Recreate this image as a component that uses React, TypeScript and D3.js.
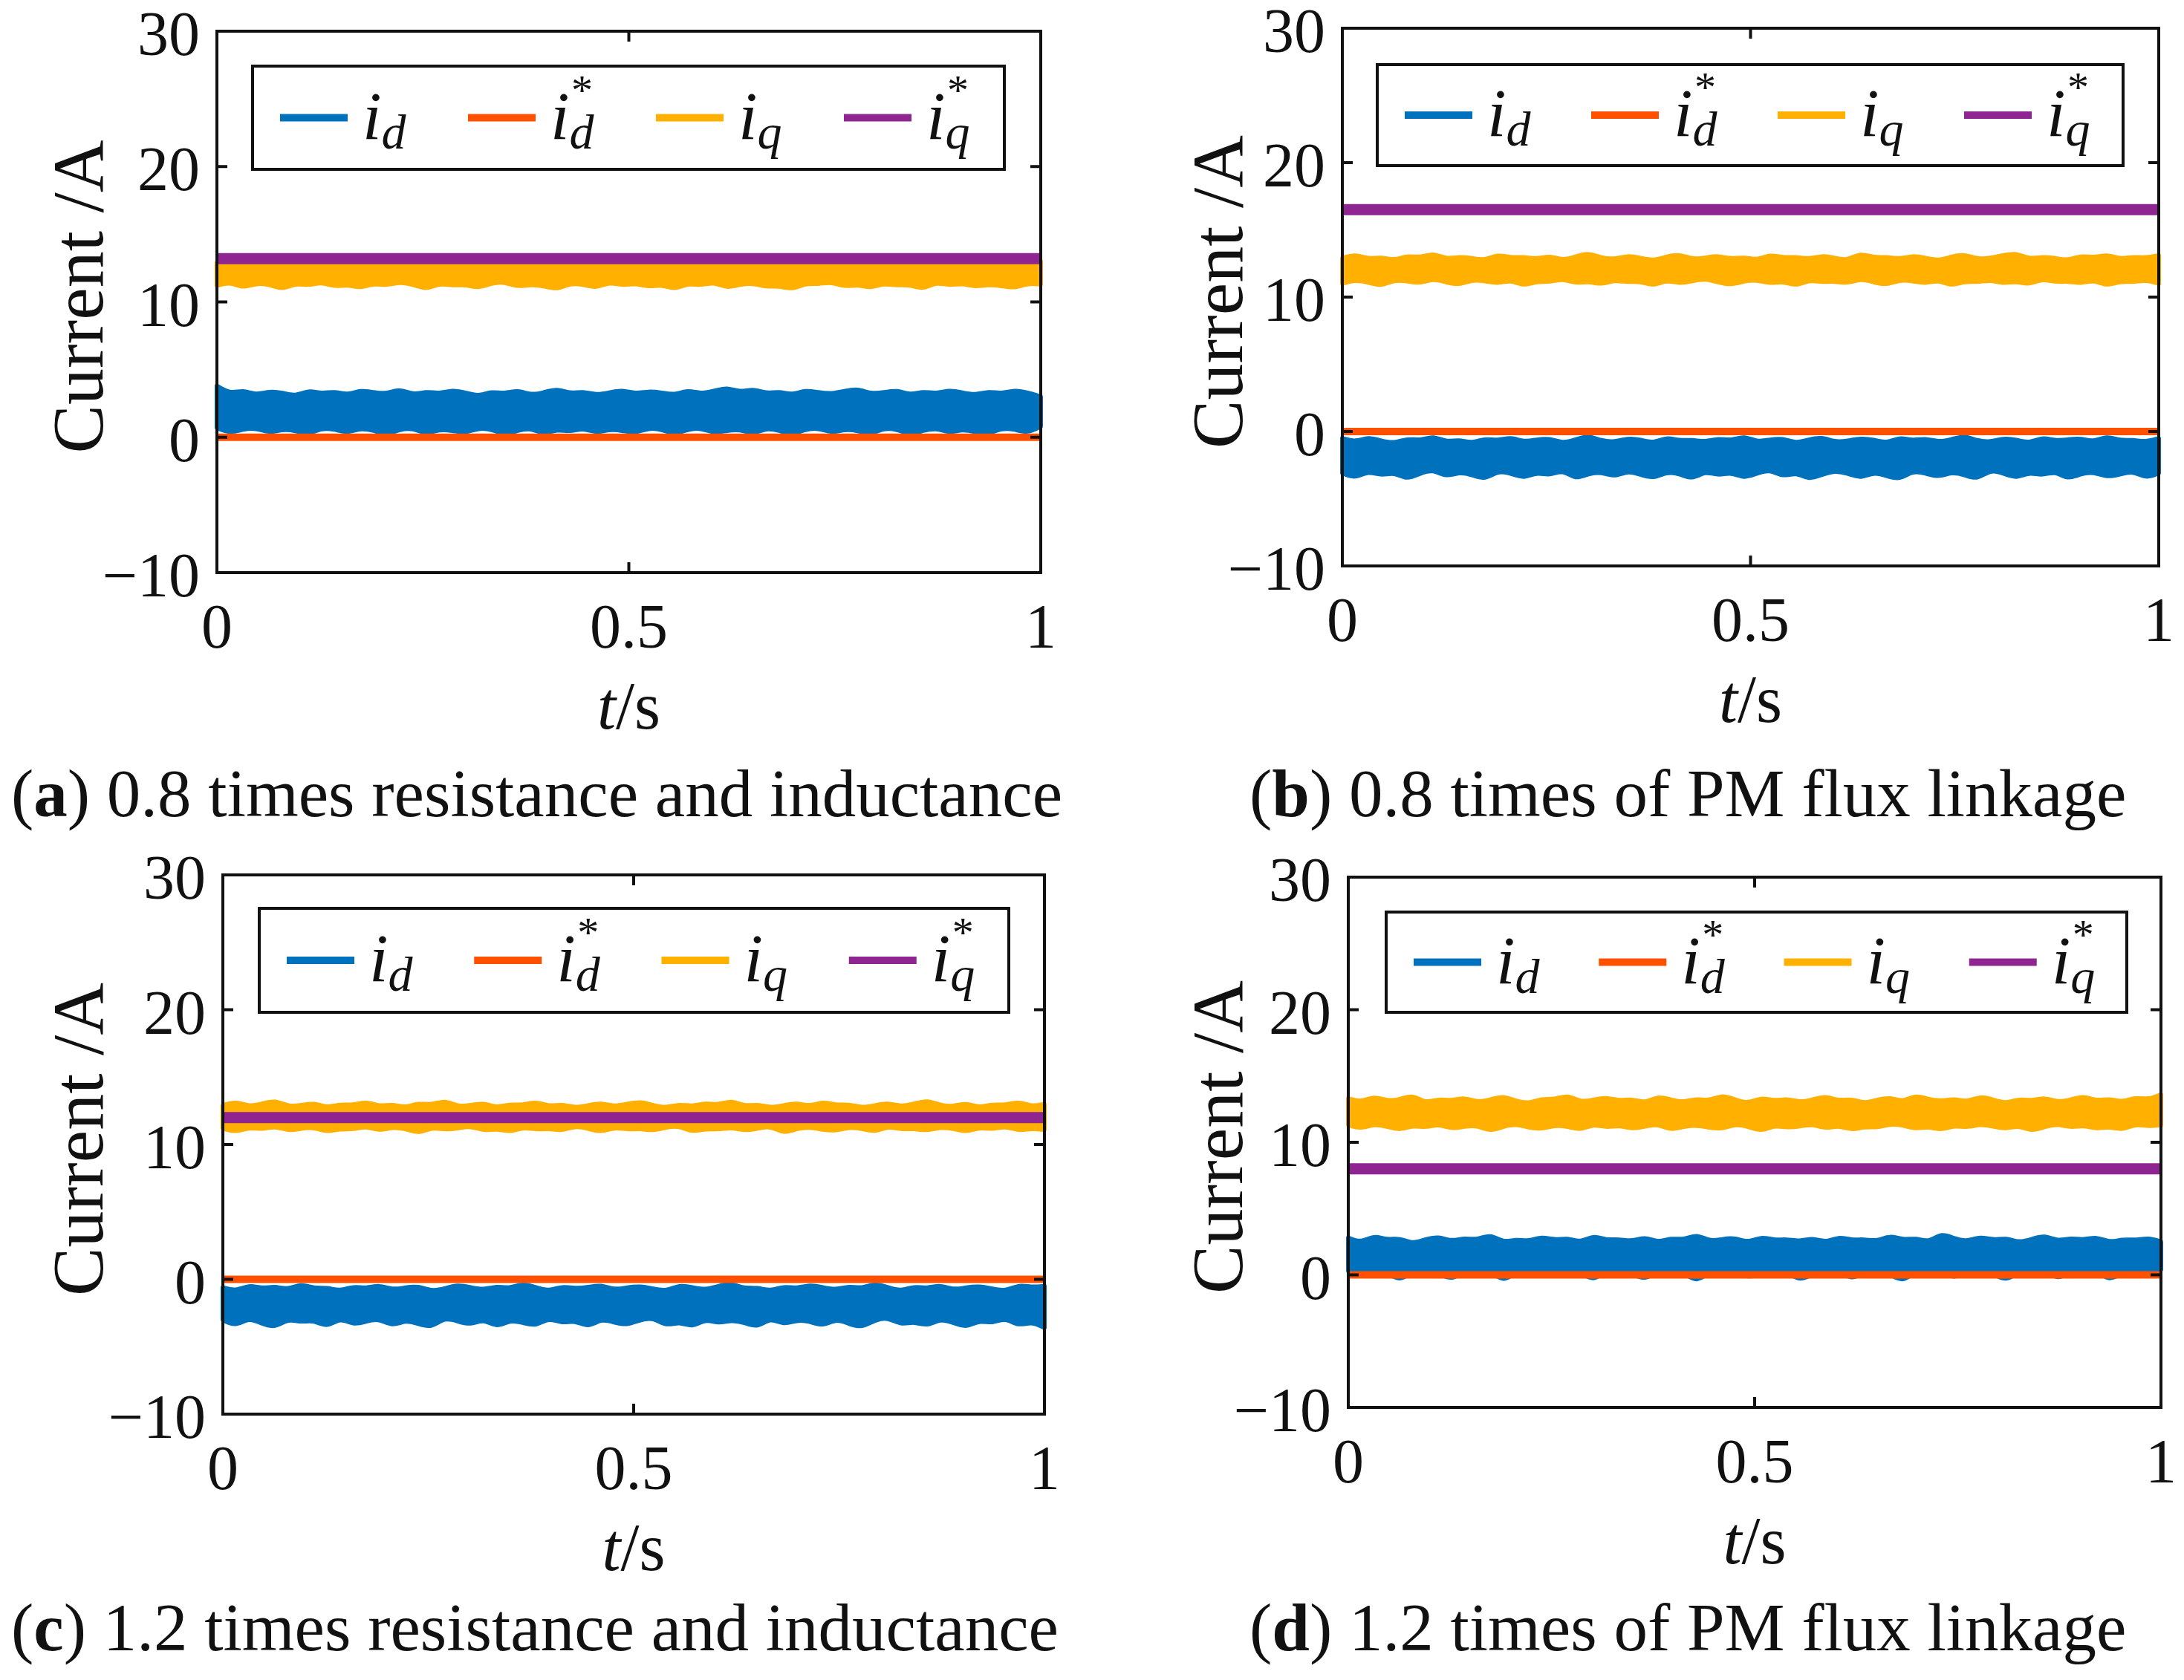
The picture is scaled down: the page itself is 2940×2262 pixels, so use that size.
import { useEffect, useRef } from 'react';
import * as d3 from 'd3';

// ── axis ticks ──
const T_TICKS = [0, 0.5, 1];
const T_TICK_LABELS = ['0', '0.5', '1'];
const I_TICKS = [-10, 0, 10, 20, 30];
const I_TICK_LABELS = ['\u221210', '0', '10', '20', '30'];

// ── legend ──
const LEGEND_SUBS = ['d', 'd', 'q', 'q'];
const LEGEND_STAR = [false, true, false, true];
const COLORS = ['#0072BD', '#FF5000', '#FFB000', '#8E2590'];

// ── captions ──
const CAPTION_TAGS = ['a', 'b', 'c', 'd'];
const CAPTION_TEXTS = [
  ' 0.8 times resistance and inductance',
  ' 0.8 times of PM flux linkage',
  ' 1.2 times resistance and inductance',
  ' 1.2 times of PM flux linkage',
];

// ── reference currents (flat) per panel a..d ──
const ID_REF = [0, 0, 0, 0];
const IQ_REF = [13.2, 16.5, 12, 8];

// ── measured currents: upper / lower edges of the ripple band, panel (a) ──
const A_ID_HI = [3.8,3.2,3.5,3.1,3.4,3.3,3.0,3.5,3.2,3.4,3.1,3.5,3.3,3.2,3.6,3.1,3.4,3.2,3.5,3.3,3.0,3.4,3.2,3.5,3.1,3.3,3.6,3.2,3.4,3.1,3.3,3.5,3.2,3.4,3.3,3.1,3.5,3.2,3.4,3.7,3.3,3.6,3.2,3.4,3.1,3.5,3.3,3.2,3.4,3.6,3.2,3.3,3.5,3.1,3.4,3.2,3.5,3.3,3.1,3.4,3.2,3.5,3.3,3.0];
const A_ID_LO = [0.7,0.3,0.6,0.7,0.3,0.6,0.5,0.2,0.7,0.6,0.3,0.7,0.5,0.2,0.6,0.7,0.2,0.6,0.5,0.3,0.7,0.6,0.2,0.5,0.7,0.2,0.6,0.4,0.7,0.3,0.6,0.5,0.3,0.7,0.6,0.2,0.6,0.7,0.3,0.5,0.6,0.2,0.7,0.5,0.2,0.6,0.7,0.3,0.6,0.5,0.2,0.7,0.6,0.2,0.5,0.7,0.3,0.6,0.4,0.2,0.7,0.6,0.3,0.8];
const A_IQ_HI = [12.9,12.8,13.0,12.8,12.9,12.7,13.0,12.9,12.8,13.0,12.9,12.7,12.9,13.0,12.8,12.9,12.7,13.0,12.9,12.8,13.0,12.8,12.9,12.7,13.0,12.9,12.8,12.9,13.0,12.8,12.7,12.9,13.0,12.8,12.9,12.7,13.0,12.9,12.8,13.0,12.9,12.7,12.8,13.0,12.9,12.8,12.9,13.0,12.7,12.9,12.8,13.0,12.9,12.8,12.7,13.0,12.9,12.8,13.0,12.9,12.7,12.9,12.8,13.0];
const A_IQ_LO = [11.2,11.5,11.0,11.4,11.3,10.9,11.4,11.2,11.5,11.1,11.3,11.0,11.4,11.2,11.5,11.3,10.9,11.4,11.2,11.3,11.0,11.4,11.5,11.1,11.3,11.2,10.9,11.4,11.3,11.0,11.5,11.2,11.4,11.1,11.3,10.9,11.4,11.2,11.5,11.0,11.3,11.4,11.1,11.2,10.9,11.4,11.3,11.5,11.1,11.3,11.0,11.4,11.2,11.3,10.9,11.5,11.2,11.4,11.1,11.3,11.2,11.0,11.4,11.3];

// panel (b)
const B_ID_HI = [-0.5,-0.8,-0.4,-0.7,-0.9,-0.5,-0.7,-0.3,-0.8,-0.6,-0.9,-0.5,-0.7,-0.4,-0.8,-0.6,-0.5,-0.9,-0.6,-0.3,-0.7,-0.8,-0.5,-0.6,-0.9,-0.4,-0.7,-0.6,-0.8,-0.5,-0.7,-0.3,-0.8,-0.6,-0.5,-0.9,-0.6,-0.4,-0.8,-0.7,-0.5,-0.6,-0.9,-0.4,-0.7,-0.5,-0.8,-0.6,-0.3,-0.7,-0.8,-0.5,-0.6,-0.9,-0.4,-0.7,-0.6,-0.5,-0.8,-0.3,-0.7,-0.6,-0.8,-0.5];
const B_ID_LO = [-3.1,-3.5,-2.9,-3.3,-3.0,-3.6,-3.1,-2.8,-3.4,-3.0,-3.2,-3.6,-2.9,-3.1,-3.5,-3.0,-3.3,-2.8,-3.6,-3.1,-3.0,-3.4,-2.9,-3.2,-3.5,-3.0,-3.1,-3.6,-2.9,-3.3,-3.0,-3.5,-3.1,-2.8,-3.4,-3.0,-3.6,-3.2,-2.9,-3.1,-3.5,-3.0,-3.3,-3.6,-2.9,-3.1,-3.4,-3.0,-3.2,-3.6,-2.8,-3.1,-3.5,-3.0,-3.3,-2.9,-3.6,-3.1,-3.0,-3.4,-3.2,-2.9,-3.5,-3.1];
const B_IQ_HI = [12.9,13.2,12.8,13.0,12.7,13.1,12.9,13.3,12.8,13.0,12.9,12.7,13.2,12.9,13.0,12.8,13.1,12.7,13.0,13.3,12.9,12.8,13.1,12.9,12.7,13.0,13.2,12.8,12.9,13.1,12.8,13.0,12.7,13.2,12.9,13.0,12.8,13.1,12.9,12.7,13.3,12.9,13.0,12.8,13.1,12.9,12.7,13.0,13.2,12.8,12.9,13.1,13.3,12.8,13.0,12.9,12.7,13.1,12.9,13.2,12.8,13.0,12.9,13.1];
const B_IQ_LO = [11.0,11.3,11.1,10.8,11.3,11.2,11.0,11.4,11.1,10.9,11.3,11.2,11.0,11.3,10.8,11.2,11.1,11.4,11.0,11.2,10.9,11.3,11.1,11.2,10.8,11.3,11.0,11.2,11.4,11.1,10.9,11.2,11.3,11.0,11.2,10.8,11.3,11.1,11.2,11.0,11.4,11.1,10.9,11.3,11.2,11.0,11.3,10.8,11.2,11.1,11.3,11.0,11.2,10.9,11.4,11.1,11.2,11.0,11.3,10.8,11.2,11.1,11.3,11.0];

// panel (c)
const C_ID_HI = [-0.6,-0.9,-0.4,-0.7,-0.5,-0.8,-0.3,-0.7,-0.6,-0.9,-0.5,-0.7,-0.4,-0.8,-0.6,-0.5,-0.9,-0.7,-0.4,-0.6,-0.8,-0.5,-0.7,-0.3,-0.6,-0.9,-0.5,-0.7,-0.6,-0.4,-0.8,-0.6,-0.5,-0.7,-0.9,-0.4,-0.6,-0.8,-0.5,-0.3,-0.7,-0.6,-0.9,-0.5,-0.7,-0.4,-0.6,-0.8,-0.5,-0.7,-0.3,-0.6,-0.9,-0.5,-0.7,-0.4,-0.8,-0.6,-0.5,-0.7,-0.9,-0.4,-0.6,-0.5];
const C_ID_LO = [-3.0,-3.5,-2.8,-3.3,-3.6,-2.9,-3.2,-3.0,-3.6,-2.8,-3.4,-3.1,-2.9,-3.5,-3.0,-3.3,-3.6,-2.8,-3.1,-3.4,-2.9,-3.6,-3.0,-3.2,-3.5,-2.8,-3.3,-3.0,-3.6,-2.9,-3.2,-3.4,-3.0,-2.8,-3.5,-3.1,-3.6,-2.9,-3.3,-3.0,-3.2,-3.6,-2.8,-3.4,-3.0,-3.1,-3.5,-2.9,-3.3,-3.6,-3.0,-2.8,-3.4,-3.1,-3.5,-2.9,-3.2,-3.6,-3.0,-3.3,-2.8,-3.5,-3.1,-3.6];
const C_IQ_HI = [12.9,13.2,12.8,13.0,13.3,12.8,12.9,13.1,12.7,13.0,12.9,13.2,12.8,13.0,12.7,13.1,12.9,13.3,12.8,12.9,13.1,12.7,13.0,12.9,13.2,12.8,13.0,12.7,12.9,13.1,12.8,13.0,13.2,12.9,12.7,13.0,12.8,13.1,12.9,13.3,12.8,13.0,12.7,12.9,13.1,12.8,13.2,12.9,13.0,12.7,12.9,13.1,12.8,13.0,13.3,12.9,12.8,13.1,12.7,13.0,12.9,13.2,12.8,13.0];
const C_IQ_LO = [11.2,10.9,11.3,11.1,11.4,11.0,11.2,11.3,10.9,11.2,11.1,11.4,11.0,11.3,11.2,10.8,11.3,11.1,11.2,11.4,11.0,11.2,10.9,11.3,11.1,11.2,11.0,11.4,11.2,10.9,11.3,11.1,11.2,11.0,11.3,11.4,10.9,11.2,11.1,11.3,11.0,11.2,11.4,10.8,11.2,11.3,11.1,11.0,11.3,11.2,10.9,11.4,11.1,11.2,11.0,11.3,11.2,10.9,11.3,11.1,11.4,11.0,11.2,11.1];

// panel (d)
const D_ID_HI = [2.8,2.4,3.0,2.6,2.8,2.3,2.7,2.9,2.5,2.8,2.6,3.1,2.4,2.7,2.5,2.9,2.6,2.8,2.4,3.0,2.6,2.7,2.5,2.9,2.4,2.8,2.6,3.1,2.5,2.7,2.8,2.4,2.9,2.6,2.7,2.5,2.8,2.4,2.9,2.6,2.7,2.5,3.0,2.6,2.8,2.4,3.2,2.7,2.5,2.9,2.6,2.8,2.4,2.7,3.0,2.5,2.8,2.6,2.9,2.4,2.7,2.6,2.8,2.5];
const D_ID_LO = [0.3,-0.2,0.4,0.2,-0.5,0.3,0.4,0.1,-0.4,0.3,0.2,0.4,-0.6,0.3,0.1,0.4,-0.3,0.3,0.2,-0.5,0.4,0.3,0.1,-0.4,0.3,0.4,0.2,-0.6,0.3,0.1,0.4,-0.3,0.2,0.4,0.3,-0.5,0.1,0.3,0.4,-0.4,0.2,0.3,0.1,-0.6,0.4,0.3,0.2,-0.3,0.3,0.4,0.1,-0.5,0.3,0.2,0.4,-0.4,0.3,0.1,0.4,-0.5,0.2,0.3,-0.3,0.4];
const D_IQ_HI = [13.3,13.0,13.5,13.1,13.2,13.6,12.9,13.3,13.1,13.4,13.0,13.2,13.5,13.1,12.9,13.3,13.2,13.6,13.0,13.2,13.4,13.1,13.3,12.9,13.5,13.2,13.0,13.3,13.1,13.6,13.2,12.9,13.4,13.1,13.3,13.0,13.2,13.5,13.1,13.3,12.9,13.2,13.4,13.0,13.6,13.2,13.1,13.3,13.0,13.5,13.2,12.9,13.3,13.1,13.4,13.0,13.2,13.5,13.1,13.3,13.0,13.4,13.2,13.6];
const D_IQ_LO = [11.3,11.0,11.4,11.2,10.9,11.3,11.1,11.4,11.0,11.2,11.3,10.8,11.2,11.4,11.1,11.0,11.3,11.2,10.9,11.4,11.1,11.3,11.0,11.2,11.4,10.9,11.2,11.3,11.1,11.0,11.4,11.2,10.8,11.3,11.1,11.2,11.4,11.0,11.3,10.9,11.2,11.1,11.4,11.3,11.0,11.2,10.9,11.3,11.1,11.4,11.2,11.0,11.3,10.8,11.2,11.4,11.1,11.3,11.0,11.2,10.9,11.4,11.2,11.3];

const ID_BANDS = [[A_ID_HI, A_ID_LO], [B_ID_HI, B_ID_LO], [C_ID_HI, C_ID_LO], [D_ID_HI, D_ID_LO]];
const IQ_BANDS = [[A_IQ_HI, A_IQ_LO], [B_IQ_HI, B_IQ_LO], [C_IQ_HI, C_IQ_LO], [D_IQ_HI, D_IQ_LO]];

// ── layout (pixel boxes of each subplot) ──
const PANELS = [
  { left: 292, right: 1401, top: 42, bottom: 771, legend: { x: 340, y: 89, w: 1012, h: 139 }, labelX: 138, capX: 15, capY: 1099 },
  { left: 1807, right: 2906, top: 38, bottom: 762, legend: { x: 1854, y: 87, w: 1004, h: 136 }, labelX: 1672, capX: 1682, capY: 1099 },
  { left: 300, right: 1406, top: 1178, bottom: 1904, legend: { x: 349, y: 1223, w: 1009, h: 140 }, labelX: 138, capX: 15, capY: 2222 },
  { left: 1815, right: 2909, top: 1181, bottom: 1895, legend: { x: 1866, y: 1228, w: 997, h: 135 }, labelX: 1672, capX: 1682, capY: 2222 },
];

const SERIF = "'Liberation Serif', 'Times New Roman', Times, serif";

export default function App() {
  const svgRef = useRef<SVGSVGElement>(null);

  useEffect(() => {
    if (!svgRef.current) return;
    const svg = d3.select(svgRef.current);
    svg.selectAll('*').remove();

    PANELS.forEach((p, pi) => {
      const x = d3.scaleLinear().domain([0, 1]).range([p.left, p.right]);
      const y = d3.scaleLinear().domain([-10, 30]).range([p.bottom, p.top]);
      const g = svg.append('g');
      const line = d3.line<[number, number]>();
      const edge = d3.line<[number, number]>().curve(d3.curveBasis);

      // ripple band: upper edge left→right, lower edge right→left
      const band = (hi: number[], lo: number[], color: string) => {
        const top = hi.map((v, i) => [x(i / (hi.length - 1)), y(v)] as [number, number]);
        const bot = lo.map((v, i) => [x(i / (lo.length - 1)), y(v)] as [number, number]).reverse();
        const d = (edge(top) ?? '') + 'L' + (edge(bot) ?? '').slice(1) + 'Z';
        g.append('path')
          .attr('d', d)
          .attr('fill', color)
          .attr('stroke', color)
          .attr('stroke-width', 6)
          .attr('stroke-linejoin', 'round');
      };
      const flat = (v: number, color: string, w: number) => {
        g.append('path')
          .attr('d', line([[x(0), y(v)], [x(1), y(v)]]))
          .attr('fill', 'none')
          .attr('stroke', color)
          .attr('stroke-width', w);
      };

      // draw order as in the legend: id, id*, iq, iq*
      band(ID_BANDS[pi][0], ID_BANDS[pi][1], COLORS[0]);
      flat(ID_REF[pi], COLORS[1], 10);
      band(IQ_BANDS[pi][0], IQ_BANDS[pi][1], COLORS[2]);
      flat(IQ_REF[pi], COLORS[3], 15);

      // box + inward ticks on all four sides
      g.append('rect')
        .attr('x', p.left).attr('y', p.top)
        .attr('width', p.right - p.left).attr('height', p.bottom - p.top)
        .attr('fill', 'none').attr('stroke', '#111').attr('stroke-width', 4);
      const tl = 14;
      I_TICKS.forEach(v => {
        g.append('line').attr('x1', p.left).attr('x2', p.left + tl).attr('y1', y(v)).attr('y2', y(v)).attr('stroke', '#111').attr('stroke-width', 4);
        g.append('line').attr('x1', p.right - tl).attr('x2', p.right).attr('y1', y(v)).attr('y2', y(v)).attr('stroke', '#111').attr('stroke-width', 4);
      });
      T_TICKS.forEach(v => {
        g.append('line').attr('x1', x(v)).attr('x2', x(v)).attr('y1', p.bottom).attr('y2', p.bottom - tl).attr('stroke', '#111').attr('stroke-width', 4);
        g.append('line').attr('x1', x(v)).attr('x2', x(v)).attr('y1', p.top).attr('y2', p.top + tl).attr('stroke', '#111').attr('stroke-width', 4);
      });

      // tick labels
      I_TICKS.forEach((v, i) => {
        g.append('text')
          .attr('x', p.left - 23).attr('y', y(v) + 32)
          .attr('text-anchor', 'end')
          .attr('font-family', SERIF).attr('font-size', 84).attr('fill', '#111')
          .text(I_TICK_LABELS[i]);
      });
      T_TICKS.forEach((v, i) => {
        g.append('text')
          .attr('x', x(v)).attr('y', p.bottom + 101)
          .attr('text-anchor', 'middle')
          .attr('font-family', SERIF).attr('font-size', 84).attr('fill', '#111')
          .text(T_TICK_LABELS[i]);
      });

      // axis labels
      const xl = g.append('text')
        .attr('x', (p.left + p.right) / 2).attr('y', p.bottom + 210)
        .attr('text-anchor', 'middle')
        .attr('font-family', SERIF).attr('font-size', 90).attr('fill', '#111');
      xl.append('tspan').attr('font-style', 'italic').text('t');
      xl.append('tspan').text('/s');

      g.append('text')
        .attr('transform', `translate(${p.labelX},${(p.top + p.bottom) / 2 - 7}) rotate(-90)`)
        .attr('text-anchor', 'middle')
        .attr('font-family', SERIF).attr('font-size', 98).attr('fill', '#111')
        .text('Current /A');

      // legend
      const lg = p.legend;
      g.append('rect')
        .attr('x', lg.x).attr('y', lg.y).attr('width', lg.w).attr('height', lg.h)
        .attr('fill', '#fff').attr('stroke', '#111').attr('stroke-width', 4);
      const cy = lg.y + lg.h / 2;
      const step = lg.w / 4;
      COLORS.forEach((c, k) => {
        const x0 = lg.x + 37 + k * step;
        const x1 = x0 + 91;
        g.append('line')
          .attr('x1', x0).attr('x2', x1).attr('y1', cy).attr('y2', cy)
          .attr('stroke', c).attr('stroke-width', 10);
        const t = g.append('text')
          .attr('x', x1 + 20).attr('y', cy + 28)
          .attr('font-family', SERIF).attr('font-style', 'italic')
          .attr('font-size', 92).attr('fill', '#111');
        t.append('tspan').text('i');
        t.append('tspan').attr('font-size', 66).attr('dy', 13).text(LEGEND_SUBS[k]);
        if (LEGEND_STAR[k]) {
          g.append('text')
            .attr('x', x1 + 20 + 28).attr('y', cy - 18)
            .attr('font-family', SERIF).attr('font-size', 58).attr('fill', '#111')
            .text('*');
        }
      });

      // caption
      const cap = svg.append('text')
        .attr('x', p.capX).attr('y', p.capY)
        .attr('font-family', SERIF).attr('font-size', 91).attr('fill', '#111');
      cap.append('tspan').text('(');
      cap.append('tspan').attr('font-weight', 'bold').text(CAPTION_TAGS[pi]);
      cap.append('tspan').text(')' + CAPTION_TEXTS[pi]);
    });
  }, []);

  return (
    <svg
      ref={svgRef}
      width={2940}
      height={2262}
      style={{ position: 'absolute', left: 0, top: 0, background: '#fff' }}
    />
  );
}
